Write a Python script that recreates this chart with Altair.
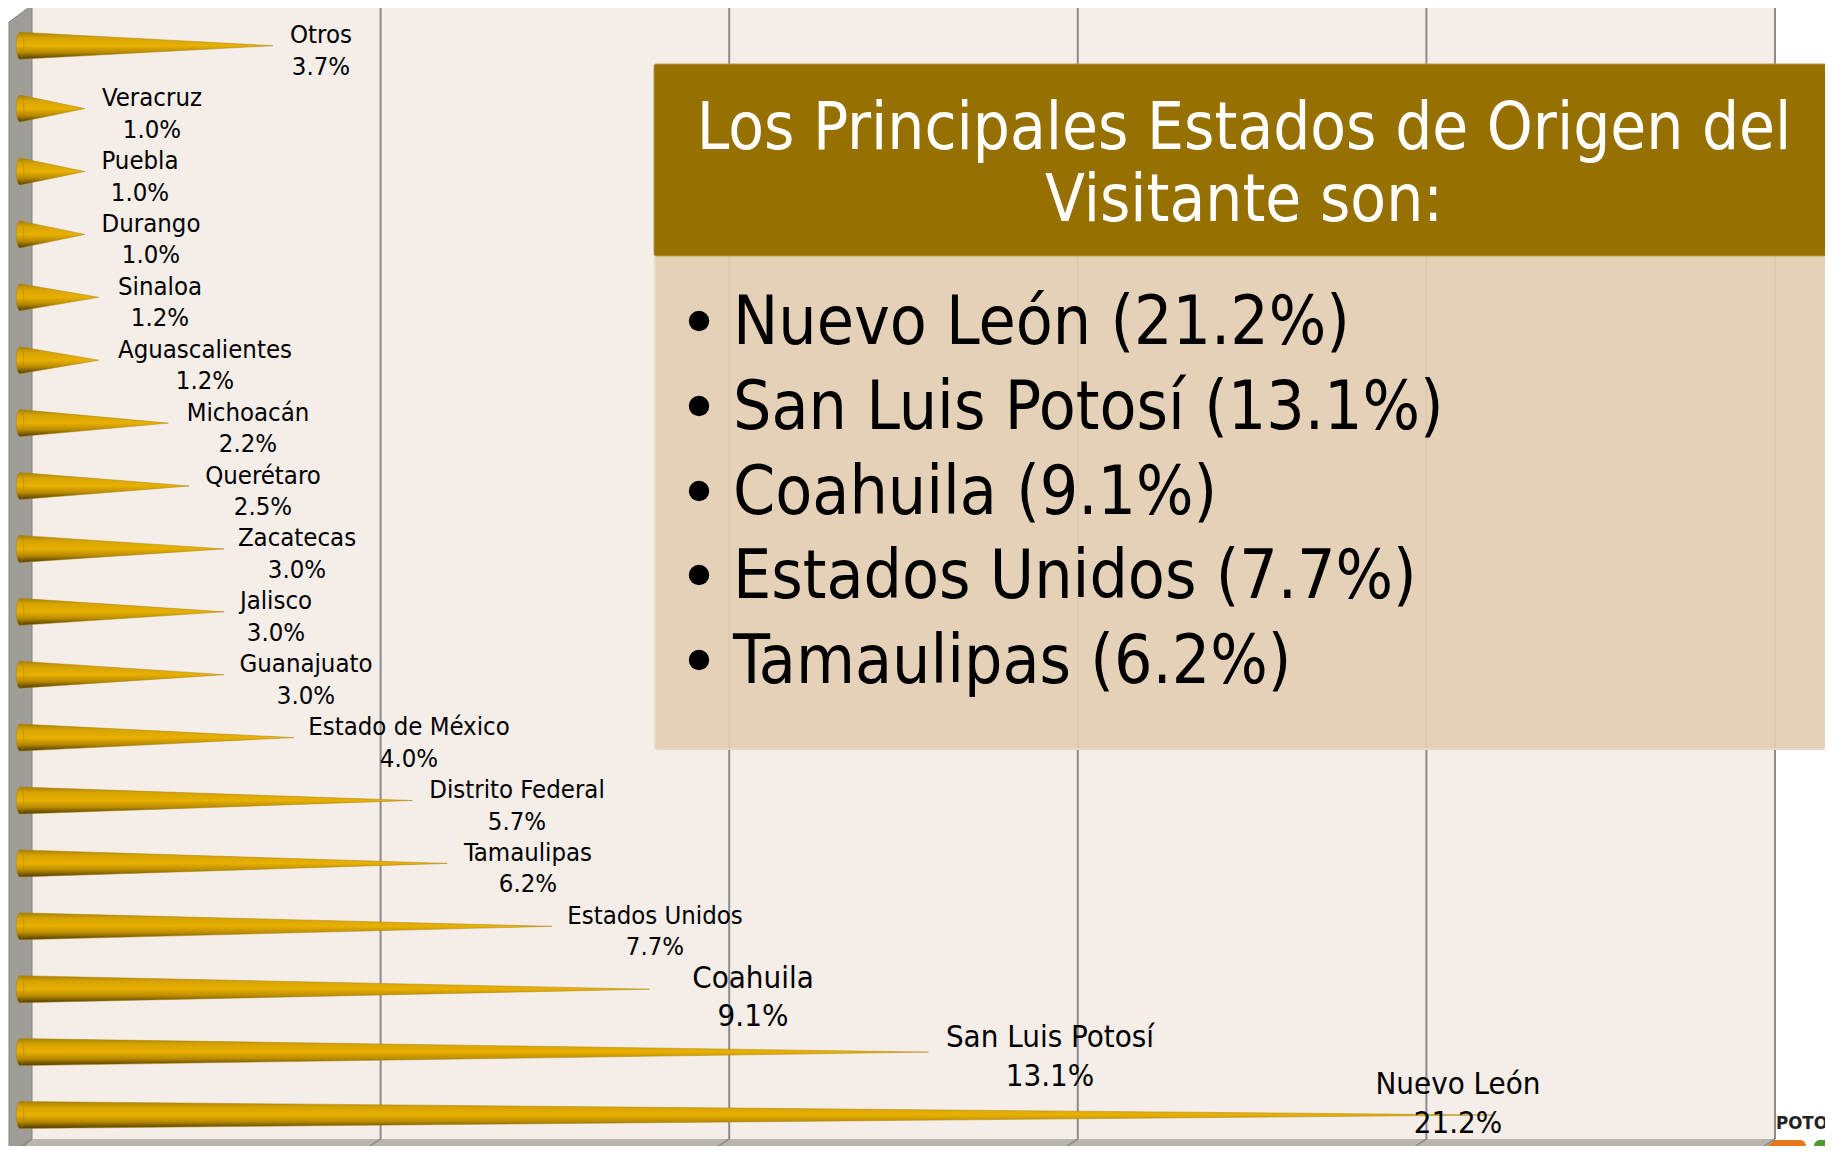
import altair as alt
import pandas as pd

# chart values
categories = ["Otros", "Veracruz", "Puebla", "Durango", "Sinaloa", "Aguascalientes", "Michoacán", "Querétaro",
              "Zacatecas", "Jalisco", "Guanajuato", "Estado de México", "Distrito Federal", "Tamaulipas",
              "Estados Unidos", "Coahuila", "San Luis Potosí", "Nuevo León"]
values = [3.7, 1.0, 1.0, 1.0, 1.2, 1.2, 2.2, 2.5, 3.0, 3.0, 3.0, 4.0, 5.7, 6.2, 7.7, 9.1, 13.1, 21.2]
grid_values = [0, 5, 10, 15, 20, 25]
title_lines = ["Los Principales Estados de Origen del", "Visitante son:"]
body_lines = ["Nuevo León (21.2%)", "San Luis Potosí (13.1%)", "Coahuila (9.1%)", "Estados Unidos (7.7%)", "Tamaulipas (6.2%)"]

# layout (screen pixels of the label centres, and of the first label line relative to the row)
label_cx = [321, 152, 140, 151, 160, 205, 248, 263, 297, 276, 306, 409, 517, 528, 655, 753, 1050, 1458]
label_dy = [-10.5] * 15 + [-10.5, -13.8, -30]

W, H = 1817, 1138
FONT = "DejaVu Sans Condensed"
PX = (1775 - 32) / 25
PY = (1115 - 45.7) / 17
ix = lambda px: (px - 32) / PX
iy = lambda py: (py - 45.7) / PY
xs = alt.Scale(domain=[ix(8), ix(8 + W)], nice=False, zero=False)
ys = alt.Scale(domain=[iy(8 + H), iy(8)], nice=False, zero=False)
X = lambda f="x": alt.X(f"{f}:Q", scale=xs, axis=None)
Y = lambda f="y": alt.Y(f"{f}:Q", scale=ys, axis=None)

cone_rows, base_rows, label_rows = [], [], []
half = 13.5 / PY
x0 = ix(20)
tip_inset = 5 / PX
for i, (c, v) in enumerate(zip(categories, values)):
    cone_rows.append(dict(c=c, x=x0, y=i - half, y2=i + half))
    cone_rows.append(dict(c=c, x=x0 + v - tip_inset, y=i, y2=i))
    base_rows.append(dict(c=c, x=x0, y=i))
    label_rows.append(dict(c=c, i=i, x=ix(label_cx[i]), y=i + label_dy[i] / PY, t=f"{c}\n{v:.1f}%"))
cones = pd.DataFrame(cone_rows)
bases = pd.DataFrame(base_rows)
labels = pd.DataFrame(label_rows)

grad = alt.Gradient(gradient="linear", x1=0, x2=0, y1=0, y2=1, stops=[
    alt.GradientStop(color="#a67f00", offset=0),
    alt.GradientStop(color="#d5a200", offset=0.2),
    alt.GradientStop(color="#e8b000", offset=0.5),
    alt.GradientStop(color="#b88a00", offset=0.75),
    alt.GradientStop(color="#4a3800", offset=1),
])

def rect(x, x2, y, y2, **kw):
    return alt.Chart(pd.DataFrame({"a": [0]})).mark_rect(**kw).encode(
        x=alt.value(x - 8), x2=alt.value(x2 - 8), y=alt.value(y - 8), y2=alt.value(y2 - 8))

def txt(rows, **kw):
    return alt.Chart(pd.DataFrame(rows)).mark_text(font=FONT, **kw).encode(
        x=alt.X("x:Q", scale=None, axis=None), y=alt.Y("y:Q", scale=None, axis=None), text="t:N")

# logo fragment, behind the chart walls
logo_o = rect(1760, 1806, 1140, 1170, color="#e8761a", cornerRadius=6)
logo_g = rect(1814, 1860, 1140, 1170, color="#4f9a32", cornerRadius=6)
logo_t = alt.Chart(pd.DataFrame({"t": ["POTO"]})).mark_text(
    font=FONT, fontSize=18.5, fontWeight="bold", align="left", baseline="alphabetic", color="#222222"
).encode(x=alt.value(1776 - 8), y=alt.value(1129 - 8), text="t:N")

wall_bg = rect(32, 1775, 6, 1139, color="#f5ede8")

wall = alt.Chart(pd.DataFrame([
    dict(x=ix(9), y=iy(22), y2=iy(1160)),
    dict(x=ix(32), y=iy(5), y2=iy(1139)),
])).mark_area(orient="vertical", color="#9f9d97", stroke="#85837e", strokeWidth=1).encode(x=X(), y=Y(), y2="y2:Q")

floor = alt.Chart(pd.DataFrame([
    dict(x=ix(9), y=iy(1154), y2=iy(1154)),
    dict(x=ix(32), y=iy(1139), y2=iy(1154)),
    dict(x=ix(1760), y=iy(1139), y2=iy(1154)),
    dict(x=ix(1775), y=iy(1139), y2=iy(1139)),
])).mark_area(orient="vertical", color="#b9b5ae").encode(x=X(), y=Y(), y2="y2:Q")

gdf = pd.DataFrame({"x": grid_values[1:]})
gdf["y"] = iy(5)
gdf["y2"] = iy(1139)
grid = alt.Chart(gdf).mark_rule(color="#8c8c8c", strokeWidth=2).encode(x=X(), y=Y(), y2="y2:Q")
gdf2 = pd.DataFrame({"x": grid_values})
gdf2["x2"] = gdf2["x"] - 23 / PX
gdf2["y"] = iy(1139)
gdf2["y2"] = iy(1154)
slant = alt.Chart(gdf2).mark_rule(color="#8c8c8c", strokeWidth=1.5).encode(x=X(), x2="x2:Q", y=Y(), y2="y2:Q")

cone = alt.Chart(cones).mark_area(orient="vertical", color=grad, stroke="#a98410", strokeWidth=0.5).encode(
    x=X(), y=Y(), y2="y2:Q", detail="c:N")
base = alt.Chart(bases).mark_point(
    shape="M0,-1 A0.28,1 0 1,0 0,1 A0.28,1 0 1,0 0,-1 Z", size=729, filled=True, opacity=1, fill=grad,
    stroke="#a98410", strokeWidth=0.5
).encode(x=X(), y=Y(), detail="c:N")

small = alt.Chart(labels[labels.i < 15]).mark_text(
    font=FONT, fontSize=25.5, lineBreak="\n", lineHeight=31.5, align="center", baseline="middle", color="#000000"
).encode(x=X(), y=Y(), text="t:N")
big = alt.Chart(labels[labels.i >= 15]).mark_text(
    font=FONT, fontSize=31, lineBreak="\n", lineHeight=38.5, align="center", baseline="middle", color="#000000"
).encode(x=X(), y=Y(), text="t:N")

panel_body = rect(655, 1840, 256, 749, color="#e3cfb4", opacity=0.92, cornerRadius=3,
                  stroke="#e9d8c0", strokeWidth=2)
panel_head = rect(654, 1840, 64, 256, color="#967000", stroke="#b89a50", strokeWidth=1, cornerRadius=2)

head_txt = txt([dict(x=1244 - 8, y=129 - 8, t=title_lines[0]), dict(x=1244 - 8, y=201 - 8, t=title_lines[1])],
               fontSize=65, align="center", baseline="middle", color="#ffffff")
body_ys = [321, 406, 491, 575, 660]
body_txt = txt([dict(x=733 - 8, y=yy + 3 - 8, t=s) for yy, s in zip(body_ys, body_lines)],
               fontSize=67.3, align="left", baseline="middle", color="#000000")
bullets = alt.Chart(pd.DataFrame({"t": body_lines, "y": [yy - 8 for yy in body_ys]})).mark_point(
    shape="circle", filled=True, opacity=1, size=415, color="#000000"
).encode(x=alt.value(699 - 8), y=alt.Y("y:Q", scale=None, axis=None))

chart = alt.layer(
    logo_o, logo_g, logo_t, wall_bg, floor, wall, slant, grid, cone, base, small, big,
    panel_body, panel_head
).resolve_scale(x="shared", y="shared")
overlay = alt.layer(head_txt, body_txt, bullets).resolve_scale(x="independent", y="independent")

chart = alt.layer(chart, overlay).resolve_scale(x="independent", y="independent").properties(
    width=W, height=H, padding=0, background="#ffffff",
    autosize=alt.AutoSizeParams(type="none")
).configure_view(stroke=None)

chart.save("out.html", embed_options={"renderer": "svg", "actions": False})
